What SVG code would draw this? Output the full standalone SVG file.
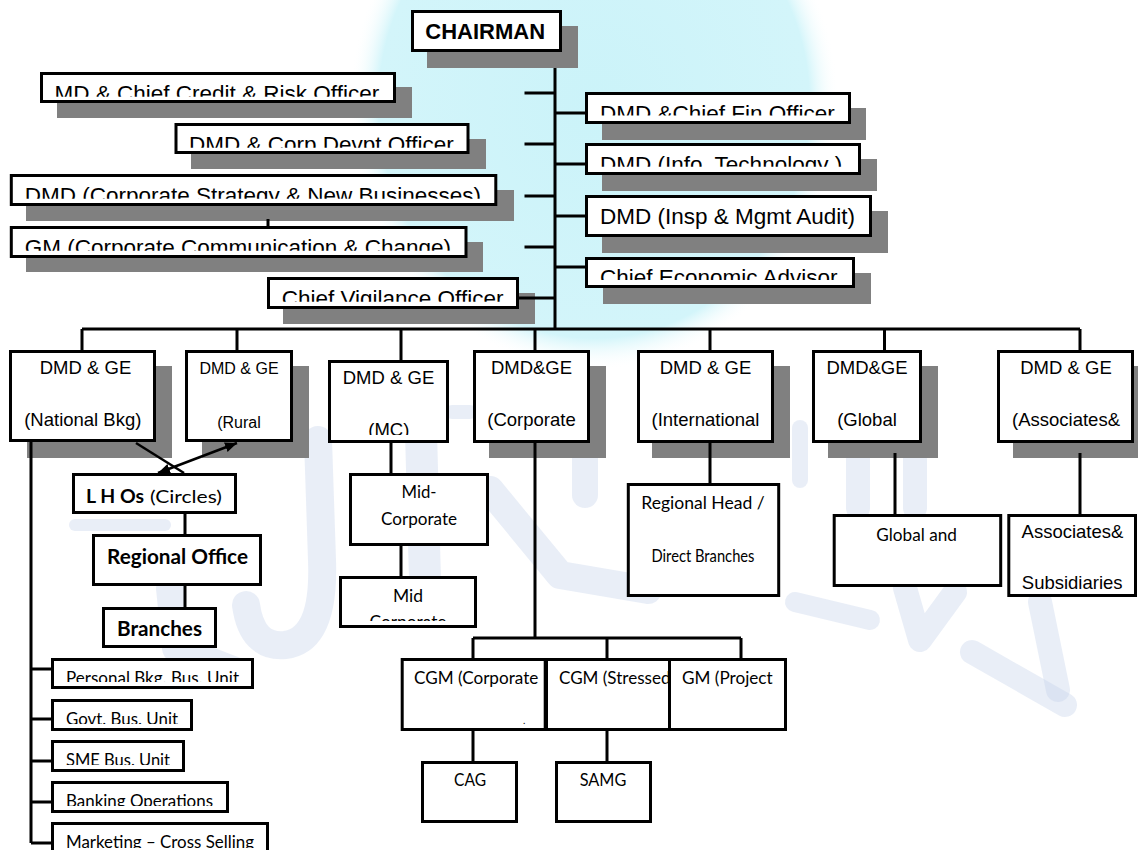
<svg xmlns="http://www.w3.org/2000/svg" width="1138" height="850" viewBox="0 0 1138 850">
<style>
.box{fill:#fff;stroke:#000;stroke-width:3}
.sh{fill:#808080}
.ln{stroke:#000;stroke-width:3;fill:none}
.ar{stroke:#000;stroke-width:2.5;fill:none}
.a{font-family:"Liberation Sans",Arial,sans-serif;fill:#000}
.t{font-size:22.5px}
.m{font-size:18.5px;text-anchor:middle}
.c{font-family:Lato,"Open Sans",sans-serif;fill:#000}
.cs{font-size:16.6px}
.wm{stroke:#c6d3ea;fill:none;stroke-linecap:round;stroke-linejoin:round;opacity:.38}
</style>
<defs>
<radialGradient id="cy" cx="0.5" cy="0.5" r="0.5">
<stop offset="0" stop-color="#cbf3f9"/>
<stop offset="0.88" stop-color="#d3f5fa"/>
<stop offset="1" stop-color="#ffffff" stop-opacity="0"/>
</radialGradient>
<marker id="ah" viewBox="0 0 12 10" refX="12" refY="5" markerWidth="12" markerHeight="10" markerUnits="userSpaceOnUse" orient="auto-start-reverse">
<path d="M0,0 L12,5 L0,10 z" fill="#000"/>
</marker>
<clipPath id="k1"><rect x="40" y="72" width="356" height="24.7"/></clipPath>
<clipPath id="k2"><rect x="174" y="123" width="296" height="24.7"/></clipPath>
<clipPath id="k3"><rect x="9" y="174" width="488" height="24.7"/></clipPath>
<clipPath id="k4"><rect x="9" y="226" width="458" height="24.7"/></clipPath>
<clipPath id="k5"><rect x="267" y="277" width="252" height="24.7"/></clipPath>
<clipPath id="r1"><rect x="585" y="92" width="266" height="23.5"/></clipPath>
<clipPath id="r2"><rect x="585" y="143" width="276" height="23.7"/></clipPath>
<clipPath id="r4"><rect x="585" y="257" width="270" height="23"/></clipPath>
<clipPath id="kmc"><rect x="328" y="360" width="121" height="75"/></clipPath>
<clipPath id="kmid"><rect x="339" y="576" width="138" height="45"/></clipPath>
<clipPath id="u1"><rect x="51" y="658" width="203" height="24"/></clipPath>
<clipPath id="u2"><rect x="51" y="699" width="142" height="25"/></clipPath>
<clipPath id="u3"><rect x="51" y="740" width="134" height="25"/></clipPath>
<clipPath id="u4"><rect x="51" y="781" width="178" height="25"/></clipPath>
<clipPath id="u5"><rect x="51" y="822" width="218" height="26"/></clipPath>
<clipPath id="kst"><rect x="545" y="658" width="123" height="73"/></clipPath>
</defs>
<rect width="1138" height="850" fill="#fff"/>
<g id="watermark">
<ellipse cx="594" cy="105" rx="245" ry="265" fill="url(#cy)"/>
<path class="wm" stroke-width="28" d="M318,440 L322,560 Q325,640 285,645 Q252,648 246,605"/>
<path class="wm" stroke-width="12" d="M75,525 L165,525"/>
<path class="wm" stroke-width="28" d="M170,588 L176,648 L238,672"/>
<path class="wm" stroke-width="32" d="M421,432 L425,580"/>
<path class="wm" stroke-width="14" d="M452,412 L470,412"/>
<path class="wm" stroke-width="28" d="M490,490 L560,575 L648,590"/>
<path class="wm" stroke-width="26" d="M585,458 L585,495"/>
<path class="wm" stroke-width="24" d="M858,458 L858,508"/>
<path class="wm" stroke-width="24" d="M915,458 L915,508"/>
<path class="wm" stroke-width="16" d="M800,428 L800,480"/>
<path class="wm" stroke-width="20" d="M795,602 L870,620"/>
<path class="wm" stroke-width="24" d="M905,588 L920,640 L955,592"/>
<path class="wm" stroke-width="24" d="M972,652 L1065,705"/>
<path class="wm" stroke-width="24" d="M1040,602 L1058,690"/>
</g>
<g id="shadows">
<rect class="sh" x="427" y="26" width="151" height="42"/>
<rect class="sh" x="57" y="87" width="355" height="31"/>
<rect class="sh" x="191" y="139" width="295" height="30"/>
<rect class="sh" x="26" y="190" width="488" height="31"/>
<rect class="sh" x="26" y="242" width="457" height="30"/>
<rect class="sh" x="283" y="293" width="252" height="31"/>
<rect class="sh" x="602" y="108" width="264" height="32"/>
<rect class="sh" x="602" y="159" width="275" height="32"/>
<rect class="sh" x="602" y="211" width="286" height="42"/>
<rect class="sh" x="603" y="273" width="268" height="31"/>
<rect class="sh" x="27" y="366" width="145" height="92"/>
<rect class="sh" x="202" y="366" width="107" height="92"/>
<rect class="sh" x="489" y="366" width="117" height="92"/>
<rect class="sh" x="652" y="366" width="138" height="92"/>
<rect class="sh" x="828" y="366" width="110" height="92"/>
<rect class="sh" x="1013" y="366" width="137" height="92"/>
</g>
<g id="connectors">
<path class="ln" d="M555,68 V329 M82,329 H1080 M82,329 V350 M237,329 V350 M401,329 V360 M535,329 V350 M710,329 V350 M884.5,329 V350 M1080,329 V350"/>
<path class="ln" d="M524.5,93 H555 M524.5,144 H555 M524.5,196 H555 M524.5,247 H555 M519,298 H555"/>
<path class="ln" d="M555,113 H585 M555,164 H585 M555,216 H585 M555,267 H585"/>
<path class="ln" d="M268,219 V226"/>
<path class="ln" d="M31,442 V843 M31,669 H51 M31,719 H51 M31,761 H51 M31,802 H51 M31,843 H51"/>
<path class="ar" d="M136,443 L184,473"/>
<path class="ar" d="M158,473 L237,443" marker-start="url(#ah)" marker-end="url(#ah)"/>
<path class="ln" d="M185,514 V534 M185,586 V607"/>
<path class="ln" d="M391,443 V473 M401,546 V576"/>
<path class="ln" d="M535,443 V638 M473,638 H741 M473,638 V658 M607,638 V658 M741,638 V658 M473,731 V761 M607,731 V761"/>
<path class="ln" d="M710,443 V483 M895,453 V514 M1080,453 V514"/>
</g>
<g id="chairman">
<rect class="box" x="412.5" y="11.5" width="148" height="39"/>
<text class="a" x="425.3" y="39.3" font-size="22px" font-weight="bold">CHAIRMAN</text>
</g>
<g id="md-credit-risk">
<rect class="box" x="41.5" y="73.5" width="353" height="28"/>
<text class="a t" x="54.5" y="101" clip-path="url(#k1)">MD &amp; Chief Credit &amp; Risk Officer</text>
</g>
<g id="dmd-corp-devpt">
<rect class="box" x="176" y="124.5" width="292" height="28"/>
<text class="a t" x="189" y="152" clip-path="url(#k2)">DMD &amp; Corp Devpt Officer</text>
</g>
<g id="dmd-strategy">
<rect class="box" x="11.3" y="175.5" width="484.5" height="29"/>
<text class="a t" x="24.7" y="203" clip-path="url(#k3)">DMD (Corporate Strategy &amp; New Businesses)</text>
</g>
<g id="gm-communication">
<rect class="box" x="11.3" y="227.5" width="454.7" height="29"/>
<text class="a t" x="24.7" y="255" clip-path="url(#k4)">GM (Corporate Communication &amp; Change)</text>
</g>
<g id="chief-vigilance">
<rect class="box" x="268.5" y="278.5" width="249" height="29"/>
<text class="a t" x="281.7" y="306" clip-path="url(#k5)">Chief Vigilance Officer</text>
</g>
<g id="dmd-cfo">
<rect class="box" x="586.5" y="93.5" width="263" height="29"/>
<text class="a t" x="600" y="120.5" clip-path="url(#r1)">DMD &amp;Chief Fin Officer</text>
</g>
<g id="dmd-it">
<rect class="box" x="586.5" y="144.5" width="273" height="29"/>
<text class="a t" x="600" y="172" clip-path="url(#r2)">DMD (Info. Technology )</text>
</g>
<g id="dmd-audit">
<rect class="box" x="586.5" y="196.5" width="284" height="39"/>
<text class="a t" x="600" y="223.5">DMD (Insp &amp; Mgmt Audit)</text>
</g>
<g id="chief-economic">
<rect class="box" x="586.5" y="258.5" width="267" height="28"/>
<text class="a t" x="600" y="285" clip-path="url(#r4)">Chief Economic Advisor</text>
</g>
<g id="ge-national">
<rect class="box" x="10.5" y="351.5" width="144" height="89"/>
<text class="a m" x="85.5" y="374">DMD &amp; GE</text>
<text class="a m" x="82.8" y="426">(National Bkg)</text>
</g>
<g id="ge-rural">
<rect class="box" x="186.5" y="351.5" width="105" height="89"/>
<text class="a" x="239" y="374.3" font-size="16px" text-anchor="middle">DMD &amp; GE</text>
<text class="a" x="239" y="428.3" font-size="16px" text-anchor="middle">(Rural</text>
</g>
<g id="ge-mc">
<rect class="box" x="329.5" y="361.5" width="118" height="80"/>
<text class="a m" x="388.5" y="384.3">DMD &amp; GE</text>
<text class="a m" x="388.8" y="436" clip-path="url(#kmc)">(MC)</text>
</g>
<g id="ge-corporate">
<rect class="box" x="474.5" y="351.5" width="114" height="90"/>
<text class="a m" x="531.5" y="373.5">DMD&amp;GE</text>
<text class="a m" x="531.5" y="425.5">(Corporate</text>
</g>
<g id="ge-international">
<rect class="box" x="638.5" y="351.5" width="134" height="90"/>
<text class="a m" x="705.5" y="374">DMD &amp; GE</text>
<text class="a m" x="705.5" y="426">(International</text>
</g>
<g id="ge-global">
<rect class="box" x="813.5" y="351.5" width="107" height="90"/>
<text class="a m" x="867" y="374">DMD&amp;GE</text>
<text class="a m" x="867" y="426">(Global</text>
</g>
<g id="ge-associates">
<rect class="box" x="998.5" y="351.5" width="134" height="90"/>
<text class="a m" x="1066" y="374">DMD &amp; GE</text>
<text class="a m" x="1066" y="426">(Associates&amp;</text>
</g>
<g id="lhos">
<rect class="box" x="73.5" y="474.5" width="162" height="38"/>
<text class="c" x="86" y="502.7" font-size="18px" font-weight="bold" textLength="58" lengthAdjust="spacingAndGlyphs">L H Os</text>
<text class="c" x="150" y="502.7" font-size="18px" textLength="72" lengthAdjust="spacingAndGlyphs">(Circles)</text>
</g>
<g id="regional-office">
<rect class="box" x="93.5" y="535.5" width="167" height="49"/>
<text class="c" x="107" y="564.3" font-size="20px" font-weight="bold" textLength="141" lengthAdjust="spacingAndGlyphs">Regional Office</text>
</g>
<g id="branches">
<rect class="box" x="103.5" y="608.5" width="112" height="38"/>
<text class="c" x="117" y="636" font-size="20px" font-weight="bold" textLength="85" lengthAdjust="spacingAndGlyphs">Branches</text>
</g>
<g id="personal-bkg">
<rect class="box" x="52.5" y="659.5" width="200" height="28"/>
<text class="c cs" x="66" y="684" textLength="173" lengthAdjust="spacingAndGlyphs" clip-path="url(#u1)">Personal Bkg. Bus. Unit</text>
</g>
<g id="govt-bus">
<rect class="box" x="52.5" y="700.5" width="139" height="29"/>
<text class="c cs" x="66" y="725" textLength="112" lengthAdjust="spacingAndGlyphs" clip-path="url(#u2)">Govt. Bus. Unit</text>
</g>
<g id="sme-bus">
<rect class="box" x="52.5" y="741.5" width="131" height="29"/>
<text class="c cs" x="66" y="766.2" textLength="104" lengthAdjust="spacingAndGlyphs" clip-path="url(#u3)">SME Bus. Unit</text>
</g>
<g id="banking-ops">
<rect class="box" x="52.5" y="782.5" width="175" height="29"/>
<text class="c cs" x="66" y="807" textLength="147" lengthAdjust="spacingAndGlyphs" clip-path="url(#u4)">Banking Operations</text>
</g>
<g id="marketing">
<rect class="box" x="52.5" y="823.5" width="215" height="40"/>
<text class="c cs" x="66" y="848" textLength="188" lengthAdjust="spacingAndGlyphs" clip-path="url(#u5)">Marketing – Cross Selling</text>
</g>
<g id="mid-corporate-1">
<rect class="box" x="350.5" y="474.5" width="137" height="70"/>
<text class="c cs" x="419" y="498" text-anchor="middle" textLength="35" lengthAdjust="spacingAndGlyphs">Mid-</text>
<text class="c cs" x="419" y="525" text-anchor="middle" textLength="76" lengthAdjust="spacingAndGlyphs">Corporate</text>
</g>
<g id="mid-corporate-2">
<rect class="box" x="340.5" y="577.5" width="135" height="49"/>
<text class="c cs" x="408" y="602" text-anchor="middle" textLength="30" lengthAdjust="spacingAndGlyphs">Mid</text>
<text class="c cs" x="408" y="628" text-anchor="middle" textLength="77" lengthAdjust="spacingAndGlyphs" clip-path="url(#kmid)">Corporate</text>
</g>
<g id="regional-head">
<rect class="box" x="628.3" y="484.5" width="150.4" height="111"/>
<text class="c cs" x="703" y="509.3" text-anchor="middle" textLength="123.5" lengthAdjust="spacingAndGlyphs">Regional  Head /</text>
<text class="c cs" x="703" y="562" text-anchor="middle" textLength="103" lengthAdjust="spacingAndGlyphs">Direct Branches</text>
</g>
<g id="global-and">
<rect class="box" x="834.2" y="515.5" width="166.5" height="70"/>
<text class="c cs" x="916.6" y="541" text-anchor="middle" textLength="80.6" lengthAdjust="spacingAndGlyphs">Global and</text>
</g>
<g id="associates-subsidiaries">
<rect class="box" x="1008.8" y="515.5" width="126.7" height="80"/>
<text class="a m" x="1072.5" y="538">Associates&amp;</text>
<text class="a m" x="1072.2" y="589">Subsidiaries</text>
</g>
<g id="cgm-corporate">
<rect class="box" x="402.2" y="659.5" width="143" height="70"/>
<text class="c cs" x="414" y="684" textLength="124.3" lengthAdjust="spacingAndGlyphs">CGM (Corporate</text>
<text class="c" x="523" y="724" font-size="10px">.</text>
</g>
<g id="cgm-stressed">
<rect class="box" x="546.5" y="659.5" width="137" height="70"/>
<text class="c cs" x="559" y="684" textLength="111.5" lengthAdjust="spacingAndGlyphs" clip-path="url(#kst)">CGM (Stressed</text>
</g>
<g id="gm-project">
<rect class="box" x="669.5" y="659.5" width="116" height="70"/>
<text class="c cs" x="682" y="684" textLength="90.7" lengthAdjust="spacingAndGlyphs">GM (Project</text>
</g>
<g id="cag">
<rect class="box" x="422.5" y="762.5" width="94" height="59"/>
<text class="c cs" x="470" y="786" text-anchor="middle" textLength="32" lengthAdjust="spacingAndGlyphs">CAG</text>
</g>
<g id="samg">
<rect class="box" x="556.5" y="762.5" width="94" height="59"/>
<text class="c cs" x="603" y="786" text-anchor="middle" textLength="46.7" lengthAdjust="spacingAndGlyphs">SAMG</text>
</g>
</svg>
